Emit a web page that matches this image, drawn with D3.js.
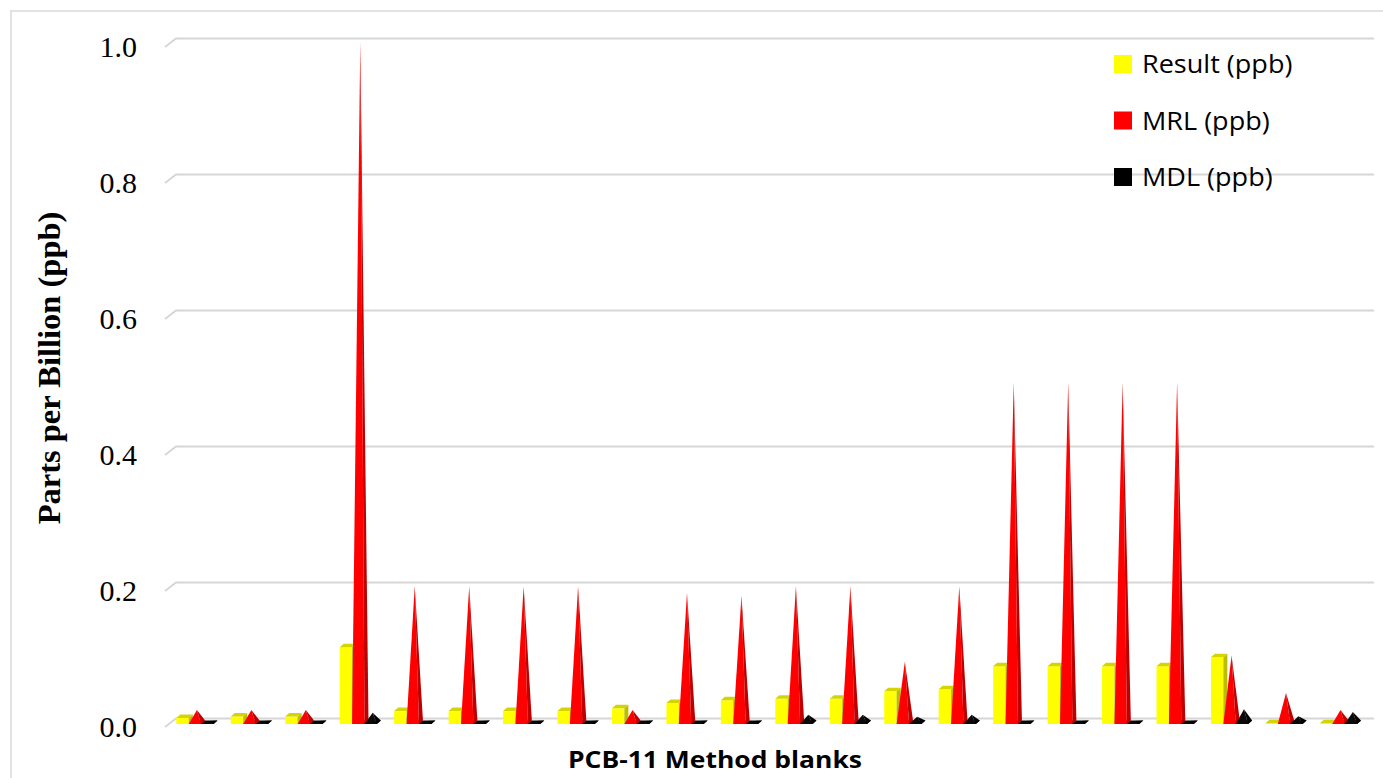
<!DOCTYPE html>
<html>
<head>
<meta charset="utf-8">
<style>
  body { margin:0; background:#fff; }
  svg { display:block; }
</style>
<script src="https://cdn.jsdelivr.net/npm/d3@7/dist/d3.min.js"></script>
</head>
<body>
<svg id="chart" width="1383" height="778"></svg>
<script>
// data
var blanks = d3.range(1, 23).map(function(i){ return "Blank " + i; });
var seriesNames = ["Result (ppb)", "MRL (ppb)", "MDL (ppb)"];
var resultPpb = [0.009,0.011,0.011,0.113,0.019,0.019,0.019,0.019,0.023,0.031,0.035,0.037,
                 0.037,0.048,0.051,0.085,0.085,0.085,0.085,0.098,0.001,0.001];
var mrlPpb    = [0.018,0.018,0.018,1.0,0.2,0.2,0.2,0.2,0.018,0.19,0.186,0.2,
                 0.2,0.089,0.2,0.5,0.5,0.5,0.5,0.098,0.043,0.018];
var mdlPpb    = [0.002,0.002,0.002,0.014,0.002,0.002,0.002,0.002,0.002,0.002,0.002,0.011,
                 0.011,0.008,0.011,0.002,0.002,0.002,0.002,0.019,0.009,0.015];
var yTicks = [0, 0.2, 0.4, 0.6, 0.8, 1.0];

var svg = d3.select("#chart");

// outer chart border
svg.append("rect").attr("x",11).attr("y",11).attr("width",1400).attr("height",800)
   .attr("fill","none").attr("stroke","#d9d9d9").attr("stroke-width",1.5);

// front plane scales, floor depth goes back by (depX, depY)
var depX = 11, depY = -8.5;
var x = d3.scaleBand().domain(blanks).range([166, 1364]);
var y = d3.scaleLinear().domain([0, 1]).range([727, 47]);

// gridlines: short diagonal on the side wall, then across the back wall
var grid = svg.append("g");
yTicks.forEach(function(t){
  var yy = y(t);
  grid.append("path")
      .attr("d", "M165," + yy + "L" + (165+depX) + "," + (yy+depY) + "H1374")
      .attr("fill","none").attr("stroke","#d6d6d6").attr("stroke-width",2);
});

// tick labels
svg.append("g").selectAll("text").data(yTicks).join("text")
   .attr("x",137).attr("y",function(d){ return y(d); }).attr("dy","0.34em")
   .attr("text-anchor","end")
   .style("font-family","'Liberation Serif','Times New Roman',serif").style("font-size","30px")
   .text(function(d){ return d3.format(".1f")(d); });

// axis titles
svg.append("text").attr("transform","translate(60,368) rotate(-90)").attr("text-anchor","middle")
   .style("font-family","'Liberation Serif','Times New Roman',serif").style("font-size","32.5px")
   .style("font-weight","bold").text("Parts per Billion (ppb)");
svg.append("text").attr("x",715).attr("y",768).attr("text-anchor","middle")
   .attr("textLength",294).attr("lengthAdjust","spacingAndGlyphs")
   .style("font-family","'Open Sans',sans-serif").style("font-size","23px")
   .style("font-weight","bold").text("PCB-11 Method blanks");

// column geometry
var barW = 12.4, dx = 4, dy = -3.5, ox = 3.7, oy = -3;
var inner = d3.scaleBand().domain(seriesNames).range([0, barW*3]);
var groupOff = (x.bandwidth() - barW*3 - dx) / 2;
var yBase = y(0) + oy;

function pts(a){ return a.map(function(p){ return p.join(","); }).join(" "); }

function drawColumn(g, xf, v){
  var yt = y(v) + oy;
  g.append("rect").attr("x",xf).attr("y",yt).attr("width",barW).attr("height",yBase-yt).attr("fill","#ffff00");
  g.append("polygon").attr("points",pts([[xf+barW,yt],[xf+barW+dx,yt+dy],[xf+barW+dx,yBase+dy],[xf+barW,yBase]]))
   .attr("fill","#bcbc00");
  g.append("polygon").attr("points",pts([[xf,yt],[xf+dx,yt+dy],[xf+barW+dx,yt+dy],[xf+barW,yt]]))
   .attr("fill","#d4d400");
}

function drawPyramid(g, xf, v, front, side){
  var h = y(0) - y(v);
  var a = xf, b = xf + barW;
  var apex = [(a + b + dx)/2, yBase + dy/2 - h];
  g.append("polygon").attr("points",pts([[a,yBase],[b,yBase],[b+dx,yBase+dy],[a+dx,yBase+dy]])).attr("fill",side);
  g.append("polygon").attr("points",pts([[a,yBase],[b,yBase],apex])).attr("fill",front);
  g.append("polygon").attr("points",pts([[b,yBase],[b+dx,yBase+dy],apex])).attr("fill",side);
}

var marks = svg.append("g");
blanks.forEach(function(c, i){
  var g = marks.append("g");
  var x0 = x(c) + groupOff + ox;
  drawColumn(g, x0 + inner(seriesNames[0]), resultPpb[i]);
  drawPyramid(g, x0 + inner(seriesNames[1]), mrlPpb[i], "#ff0000", "#c00000");
  drawPyramid(g, x0 + inner(seriesNames[2]), mdlPpb[i], "#0a0a0a", "#000000");
});

// legend
var legendColors = ["#ffff00", "#ff0000", "#000000"];
var legend = svg.append("g").selectAll("g").data(seriesNames).join("g")
   .attr("transform", function(d, i){ return "translate(1114," + (64 + i*56.5) + ")"; });
legend.append("rect").attr("x",0).attr("y",-9).attr("width",18).attr("height",18)
   .attr("fill", function(d, i){ return legendColors[i]; });
legend.append("text").attr("x",28).attr("dy","0.35em")
   .style("font-family","'Open Sans',sans-serif").style("font-size","26px")
   .text(function(d){ return d; })
   .each(function(){
     // Calibri-like width: stretch a little
     var len = this.getComputedTextLength();
     d3.select(this).attr("textLength", len*1.04).attr("lengthAdjust","spacingAndGlyphs");
   });
</script>
</body>
</html>
